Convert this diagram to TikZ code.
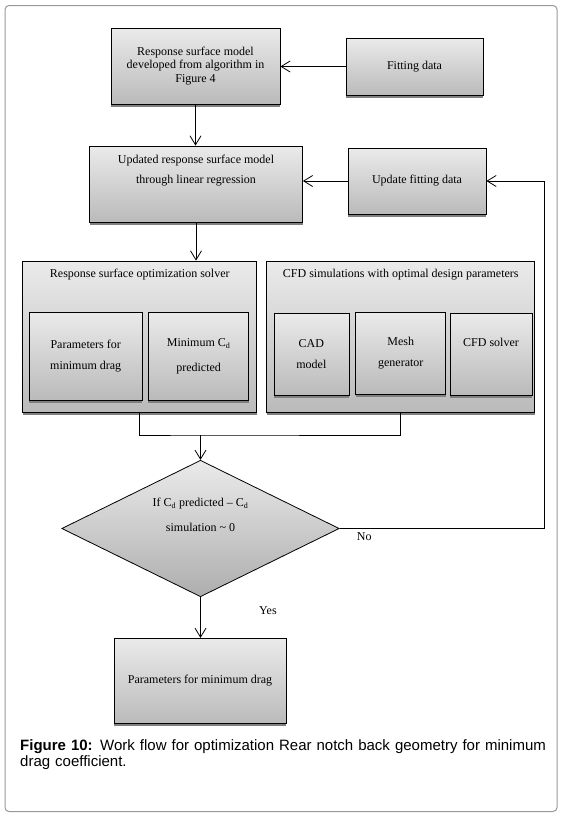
\documentclass[tikz,border=0pt]{standalone}
\usepackage{fontspec}
\setmainfont{Liberation Serif}
\newfontfamily\captionfont{Liberation Sans}
\usetikzlibrary{shapes.geometric,shadows,arrows.meta}

\begin{document}
\begin{tikzpicture}[
    x=1pt, y=-1pt,
    block/.style={rectangle, draw=black, line width=0.8pt, top color=black!8, bottom color=black!27, align=center, inner sep=0pt, font=\fontsize{12}{21}\selectfont, drop shadow={shadow xshift=0pt, shadow yshift=-3pt, fill=black!50, opacity=1}},
    title/.style={anchor=north, inner sep=0pt, align=center, font=\fontsize{12}{20}\selectfont},
    decision/.style={diamond, draw=black, line width=0.8pt, top color=black!8, bottom color=black!32, align=center, inner sep=0pt, aspect=2, font=\fontsize{12}{25}\selectfont},
    flow/.style={-{Straight Barb[length=9pt,width=11pt]}, line width=0.8pt},
    link/.style={line width=0.8pt}
]
\useasboundingbox (0,0) rectangle (565,817);
\draw[black!40, line width=1pt, rounded corners=4pt] (5,5.5) rectangle (557,811.5);

% Model layer
\node[block, minimum width=169pt, minimum height=76pt, font=\fontsize{12}{13.3}\selectfont] (model) at (195.5,66) {Response surface model\\developed from algorithm in\\Figure 4};
\node[block, minimum width=137pt, minimum height=57pt] (fitting) at (414.5,66.5) {Fitting data};

% Update layer
\node[block, minimum width=213pt, minimum height=76pt, label={[title, yshift=-9pt]north:{Updated response surface model\\through linear regression}}] (updated) at (196,184) {};
\node[block, minimum width=138pt, minimum height=66pt] (updatefit) at (417,181) {Update fitting data};

% Solver layer
\node[block, minimum width=234pt, minimum height=151pt, label={[title, yshift=-8.5pt]north:Response surface optimization solver}] (rsolver) at (139.8,336.5) {};
\node[block, minimum width=268pt, minimum height=151pt, label={[title, yshift=-8.5pt]north:CFD simulations with optimal design parameters}] (cfdsim) at (400.8,336.5) {};

\node[block, minimum width=112.5pt, minimum height=88pt] (params) at (85.7,356) {Parameters for\\minimum drag};
\node[block, minimum width=100.5pt, minimum height=88pt, font=\fontsize{12}{25}\selectfont] (mincd) at (198.6,356) {Minimum C\textsubscript{d}\\predicted};
\node[block, minimum width=75pt, minimum height=82pt] (cad) at (311.4,354) {CAD\\model};
\node[block, minimum width=90pt, minimum height=82pt] (mesh) at (400.8,353) {Mesh\\generator};
\node[block, minimum width=82pt, minimum height=82pt] (cfdsolver) at (491,354) {CFD solver\\\phantom{g}};

% Check layer
\node[decision, minimum width=277.5pt, minimum height=136.5pt] (check) at (200.5,528.5) {If C\textsubscript{d} predicted -- C\textsubscript{d}\\simulation \textasciitilde{} 0\\\phantom{g}};
\node[block, minimum width=172pt, minimum height=85pt, font=\fontsize{12}{14}\selectfont] (result) at (200,680.8) {Parameters for minimum drag};

\coordinate (merge) at (check.north |- 0,435);
\coordinate (back) at (544.5,181.5);

% Caption
\node[anchor=north west, inner sep=0pt, text width=545pt, align=left, font=\captionfont\fontsize{15}{16}\selectfont] (caption) at (20,739) {\textbf{Figure 10:} Work flow for optimization Rear notch back geometry for minimum\\drag coefficient.};

% Flow
\draw[flow] (fitting.west) -- (fitting.west -| model.east);
\draw[flow] (model.south) -- (model.south |- updated.north);
\draw[flow] (updatefit.west) -- (updatefit.west -| updated.east);
\draw[flow] (updated.south) -- (updated.south |- rsolver.north);
\draw[link] (rsolver.south) |- (merge) -| (cfdsim.south);
\draw[flow] (merge) -- (check.north);
\draw[flow] (check.east) -- node[pos=.12, below, font=\fontsize{12}{14}\selectfont] {No} (check.east -| back) |- (updatefit.east);
\draw[flow] (check.south) -- node[pos=.33, right=55pt, font=\fontsize{12}{14}\selectfont] {Yes} (check.south |- result.north);

\end{tikzpicture}
\end{document}
